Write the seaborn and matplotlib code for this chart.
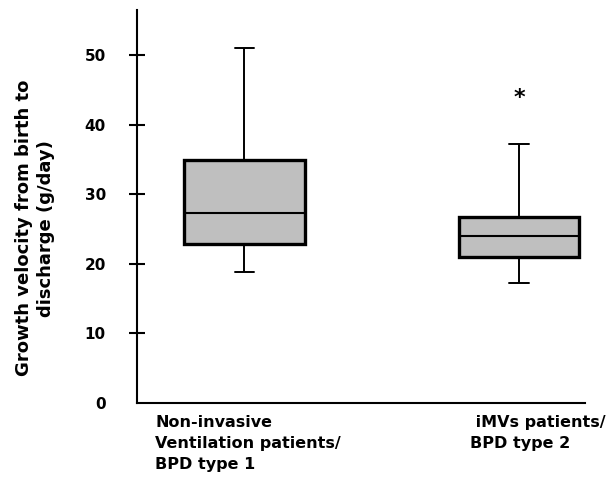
import matplotlib
matplotlib.use("Agg")
import matplotlib.pyplot as plt
import matplotlib.transforms as mtransforms
import seaborn as sns
import pandas as pd

# Five-number summaries (min, Q1, median, Q3, max)
groups = ["Non-invasive", "iMVs"]
niv_values = [18.8, 22.9, 27.3, 35.0, 51.0]
imv_values = [17.2, 21.0, 24.05, 26.8, 37.2]
star_value = 43.8

group_labels = ["Non-invasive\nVentilation patients/\nBPD type 1",
                " iMVs patients/\nBPD type 2"]
y_ticks = [0, 10, 20, 30, 40, 50]

df = pd.DataFrame({
    "group": [groups[0]] * len(niv_values) + [groups[1]] * len(imv_values),
    "growth": niv_values + imv_values,
})

sns.set_style("white")
plt.rcParams["font.family"] = ["DejaVu Sans"]
plt.rcParams["font.weight"] = "bold"
plt.rcParams["text.color"] = "black"
plt.rcParams["axes.labelcolor"] = "black"
plt.rcParams["ytick.color"] = "black"

fig = plt.figure(figsize=(6.13, 4.86), dpi=100)
ax = fig.add_axes([0.2235, 0.1708, 0.7308, 0.8086])

# percentile-based whiskers to the min/max
sns.boxplot(data=df, x="group", y="growth", whis=(0, 100), width=0.44,
            color="#bfbfbf", linecolor="black", linewidth=1.4,
            capwidths=0.07,
            boxprops=dict(linewidth=2.4),
            medianprops=dict(linewidth=1.5),
            ax=ax)

ax.set_xlim(-0.39, 1.24)
ax.set_ylim(0, 56.5)
ax.set_yticks(y_ticks)
ax.set_yticklabels([str(t) for t in y_ticks], fontsize=11, fontweight="bold")
ax.tick_params(axis="y", direction="inout", length=11, width=1.5, pad=17,
               left=True, labelcolor="black")
ax.yaxis.get_major_ticks()[0].tick1line.set_visible(False)
ax.set_xticks([])
ax.set_xlabel("")

for side in ["top", "right"]:
    ax.spines[side].set_visible(False)
for side in ["left", "bottom"]:
    ax.spines[side].set_linewidth(1.5)
    ax.spines[side].set_color("black")

ax.set_ylabel("Growth velocity from birth to\ndischarge (g/day)",
              fontsize=13, fontweight="bold", linespacing=1.3, color="black")
ax.yaxis.set_label_coords(-0.183, 0.445)

# group labels under the axis
trans = mtransforms.blended_transform_factory(ax.transData, ax.transAxes)
ax.text(-0.324, -0.03, group_labels[0], transform=trans, ha="left", va="top",
        fontsize=11.5, fontweight="bold", linespacing=1.5, color="black")
ax.text(0.822, -0.03, group_labels[1], transform=trans, ha="left", va="top",
        fontsize=11.5, fontweight="bold", linespacing=1.5, color="black")

# significance marker
ax.text(1.0, star_value, "*", ha="center", va="center", fontsize=16,
        fontweight="bold", color="black")

fig.savefig("out.png", dpi=100)
